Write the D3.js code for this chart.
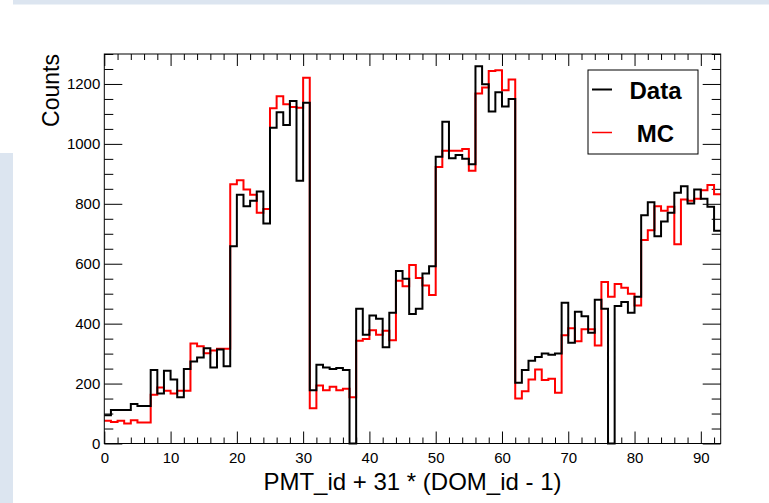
<!DOCTYPE html>
<html>
<head>
<meta charset="utf-8">
<script src="https://cdn.jsdelivr.net/npm/d3@7"></script>
<style>
  body { margin: 0; background: #fff; }
  svg { display: block; font-family: "Liberation Sans", Arial, sans-serif; }
</style>
</head>
<body>
<svg id="chart"></svg>
<script>
// bin index = PMT_id + 31 * (DOM_id - 1), 93 bins of width 1
const dataCounts = [
  94, 112, 112, 112, 132, 125, 125, 245, 167, 243,
  214, 154, 249, 274, 287, 318, 254, 314, 258, 658,
  830, 792, 810, 841, 734, 1054, 1106, 1063, 1143, 877,
  1137, 178, 263, 254, 249, 252, 245, 0, 450, 363,
  427, 416, 321, 436, 576, 550, 432, 450, 567, 592,
  957, 1074, 952, 963, 950, 932, 1259, 1199, 1108, 1172,
  1125, 1150, 203, 245, 276, 289, 300, 296, 300, 470,
  336, 440, 425, 370, 480, 450, 0, 459, 472, 436,
  490, 762, 805, 692, 741, 770, 837, 859, 801, 848,
  817, 790, 710
];
const mcCounts = [
  76, 72, 76, 67, 78, 70, 70, 163, 187, 176,
  167, 176, 176, 334, 325, 301, 310, 316, 316, 865,
  879, 848, 830, 770, 783, 1119, 1159, 1132, 1123, 1121,
  1221, 118, 194, 178, 189, 178, 183, 154, 343, 349,
  378, 363, 376, 345, 543, 525, 596, 552, 527, 496,
  923, 977, 977, 977, 983, 910, 1168, 1188, 1243, 1246,
  1179, 1215, 150, 174, 214, 247, 212, 216, 169, 361,
  385, 341, 381, 381, 327, 539, 490, 532, 520, 500,
  461, 679, 712, 792, 777, 790, 665, 814, 810, 817,
  845, 863, 832
];
const xMajorTicks = [0, 10, 20, 30, 40, 50, 60, 70, 80, 90];
const yMajorTicks = [0, 200, 400, 600, 800, 1000, 1200];
const legendItems = [
  { name: 'Data', color: '#000' },
  { name: 'MC', color: '#ff0000' }
];

const width = 769, height = 503;
const frame = { left: 104.3, right: 720.7, top: 54, bottom: 443.5 };

const svg = d3.select('#chart').attr('width', width).attr('height', height);

// page decoration around the canvas
svg.append('rect').attr('x', 13).attr('y', 0).attr('width', width - 13).attr('height', 4.5).attr('fill', '#dce5f0');
svg.append('rect').attr('x', 0).attr('y', 153).attr('width', 13).attr('height', height - 153).attr('fill', '#dce5f0');

const x = d3.scaleLinear().domain([0, 93]).range([frame.left, frame.right]);
const y = d3.scaleLinear().domain([0, 1300]).range([frame.bottom, frame.top]);

const xMinor = d3.range(0, 94, 2).filter(v => v % 10 !== 0);
const yMinor = d3.range(0, 1301, 50).filter(v => v % 200 !== 0);

function styleAxis(g) {
  g.select('.domain').remove();
  g.selectAll('line').attr('stroke', '#000').attr('stroke-width', 1);
  g.selectAll('text').attr('fill', '#000').style('font-size', '15px');
}

// bottom
svg.append('g').attr('transform', `translate(0,${frame.bottom})`)
  .call(d3.axisBottom(x).tickValues(xMajorTicks).tickSize(-12).tickPadding(9).tickFormat(d3.format('d')))
  .call(styleAxis);
svg.append('g').attr('transform', `translate(0,${frame.bottom})`)
  .call(d3.axisBottom(x).tickValues(xMinor).tickSize(-6).tickFormat(''))
  .call(styleAxis);
// top
svg.append('g').attr('transform', `translate(0,${frame.top})`)
  .call(d3.axisTop(x).tickValues(xMajorTicks).tickSize(-12).tickFormat(''))
  .call(styleAxis);
svg.append('g').attr('transform', `translate(0,${frame.top})`)
  .call(d3.axisTop(x).tickValues(xMinor).tickSize(-6).tickFormat(''))
  .call(styleAxis);
// left
svg.append('g').attr('transform', `translate(${frame.left},0)`)
  .call(d3.axisLeft(y).tickValues(yMajorTicks).tickSize(-18).tickPadding(4).tickFormat(d3.format('d')))
  .call(styleAxis);
svg.append('g').attr('transform', `translate(${frame.left},0)`)
  .call(d3.axisLeft(y).tickValues(yMinor).tickSize(-9).tickFormat(''))
  .call(styleAxis);
// right
svg.append('g').attr('transform', `translate(${frame.right},0)`)
  .call(d3.axisRight(y).tickValues(yMajorTicks).tickSize(-18).tickFormat(''))
  .call(styleAxis);
svg.append('g').attr('transform', `translate(${frame.right},0)`)
  .call(d3.axisRight(y).tickValues(yMinor).tickSize(-9).tickFormat(''))
  .call(styleAxis);

// histograms as step outlines
const step = d3.line().x(d => x(d[0])).y(d => y(d[1])).curve(d3.curveStepAfter);
function histPoints(vals) {
  const pts = vals.map((v, i) => [i, v]);
  pts.push([vals.length, vals[vals.length - 1]]);
  return pts;
}

svg.append('path')
  .attr('d', step(histPoints(mcCounts)))
  .attr('fill', 'none')
  .attr('stroke', '#ff0000')
  .attr('stroke-width', 2);

svg.append('path')
  .attr('d', step(histPoints(dataCounts)))
  .attr('fill', 'none')
  .attr('stroke', '#000')
  .attr('stroke-width', 2);

// frame
svg.append('rect')
  .attr('x', frame.left).attr('y', frame.top)
  .attr('width', frame.right - frame.left).attr('height', frame.bottom - frame.top)
  .attr('fill', 'none').attr('stroke', '#000').attr('stroke-width', 1);

// axis titles
svg.append('text')
  .attr('x', (frame.left + frame.right) / 2).attr('y', 490)
  .attr('text-anchor', 'middle')
  .style('font-size', '24px')
  .text('PMT_id + 31 * (DOM_id - 1)');

svg.append('text')
  .attr('transform', `translate(59,${frame.top}) rotate(-90)`)
  .attr('text-anchor', 'end')
  .style('font-size', '23px')
  .text('Counts');

// legend
const legend = svg.append('g');
legend.append('rect')
  .attr('x', 588).attr('y', 70).attr('width', 110).attr('height', 84)
  .attr('fill', '#fff').attr('stroke', '#000').attr('stroke-width', 1);

legendItems.forEach((item, i) => {
  const cy = 89.5 + i * 43;
  legend.append('line')
    .attr('x1', 592).attr('x2', 612).attr('y1', cy).attr('y2', cy)
    .attr('stroke', item.color).attr('stroke-width', i === 0 ? 2 : 1.5);
  legend.append('text')
    .attr('x', 655.5).attr('y', cy + 9)
    .attr('text-anchor', 'middle')
    .style('font-size', '24px')
    .style('font-weight', 'bold')
    .text(item.name);
});
</script>
</body>
</html>
